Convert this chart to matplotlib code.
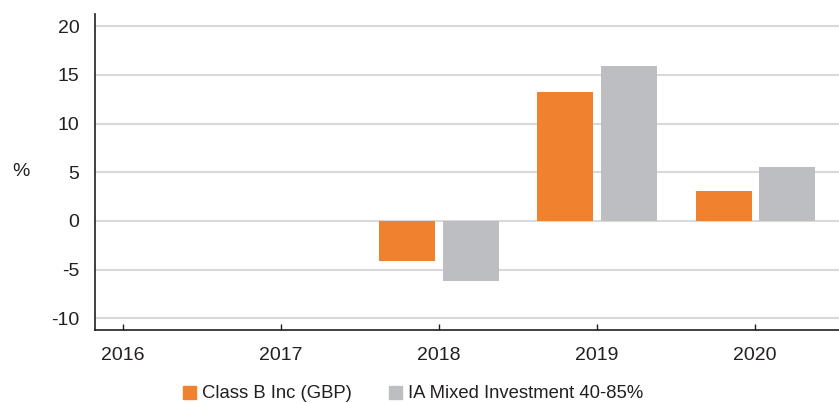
import matplotlib
matplotlib.use("Agg")
import matplotlib.pyplot as plt
import numpy as np
from matplotlib.patches import Patch

years = ["2016", "2017", "2018", "2019", "2020"]
fund_name = "Class B Inc (GBP)"
sector_name = "IA Mixed Investment 40-85%"
fund_vals = [np.nan, np.nan, -4.08, 13.26, 3.08]
sector_vals = [np.nan, np.nan, -6.13, 15.93, 5.55]
yticks = [-10, -5, 0, 5, 10, 15, 20]

orange = "#F0812E"
grey = "#BDBEC1"
textc = "#231F20"

plt.rcParams['font.family'] = ['Liberation Sans', 'DejaVu Sans']

fig = plt.figure(figsize=(8.39, 4.03), dpi=100)
ax = fig.add_axes([94.7/839, 1-330/403, 1-94.7/839, (330-14.3)/403])

x = np.arange(len(years))
w = 0.354
off = 0.2
ax.bar(x - off, fund_vals, w, color=orange, zorder=3)
ax.bar(x + off, sector_vals, w, color=grey, zorder=3)

ax.set_xlim(-0.177, 4.53)
ax.set_ylim(-11.2, 21.23)
ax.set_yticks(yticks)
ax.set_yticklabels([str(v) for v in yticks])
ax.set_xticks(x)
ax.set_xticklabels(years)
ax.yaxis.grid(True, color="#D9D9D9", linewidth=1.5, zorder=0)
ax.set_axisbelow(True)

for s in ["top", "right"]:
    ax.spines[s].set_visible(False)
for s in ["left", "bottom"]:
    ax.spines[s].set_color(textc)
    ax.spines[s].set_linewidth(1.2)

ax.tick_params(axis='y', length=0, pad=11, labelsize=14, labelcolor=textc)
ax.tick_params(axis='x', direction='in', length=4, width=1, color=textc, pad=12, labelsize=14, labelcolor=textc)

fig.text(21/839, 1-171/403, "%", fontsize=14, color=textc, ha='center', va='center')

handles = [Patch(color=orange, label=fund_name), Patch(color=grey, label=sector_name)]
fig.legend(handles=handles, loc='center', bbox_to_anchor=(413/839, 1-394/403), ncol=2,
           frameon=False, fontsize=13.3, handlelength=0.7, handleheight=0.7,
           handletextpad=0.35, columnspacing=2.0, borderaxespad=0, borderpad=0,
           labelcolor=textc)

fig.savefig("out.png", dpi=100)
